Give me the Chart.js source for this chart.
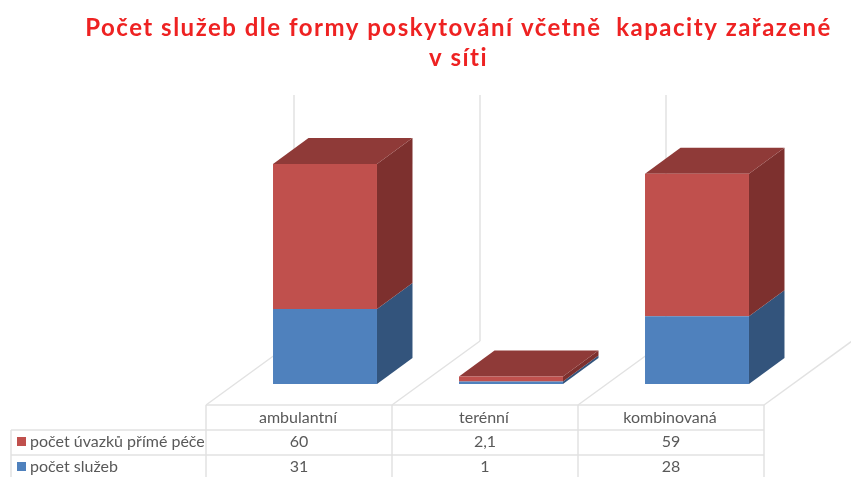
<!DOCTYPE html>
<html lang="cs">
<head>
<meta charset="utf-8">
<title>Počet služeb</title>
<script src="https://cdn.jsdelivr.net/npm/chart.js@4/dist/chart.umd.min.js"></script>
<style>
  html, body { margin: 0; padding: 0; background: #fff; }
  canvas { display: block; }
</style>
</head>
<body>
<canvas id="chart" width="851" height="477"></canvas>
<script>
const titleLines = ['Počet služeb dle formy poskytování včetně  kapacity zařazené', 'v síti'];
const categories = ['ambulantní', 'terénní', 'kombinovaná'];
const sluzbyLabel = 'počet služeb';
const uvazkyLabel = 'počet úvazků přímé péče';
const sluzby = [31, 1, 28];
const uvazky = [60, 2.1, 59];

const BLUE = { front: '#4F81BD', side: '#33547C', top: '#3F6797' };
const RED = { front: '#C0504D', side: '#7D302E', top: '#8F3A38' };
const GRID = '#E2E2E2';
const TEXT = '#595959';
const FONT = '16px Lato, sans-serif';

// bar depth, and the longer depth of the floor and walls behind
const BAR_DX = 35.5, BAR_DY = 26;
const WALL_DX = 88, WALL_DY = 64;
const TABLE_SHIFT = 26;

const poly = (ctx, pts, color) => {
    ctx.fillStyle = color;
    ctx.beginPath();
    pts.forEach(([x, y], i) => (i ? ctx.lineTo(x, y) : ctx.moveTo(x, y)));
    ctx.closePath();
    ctx.fill();
};

const line = (ctx, x1, y1, x2, y2) => {
    ctx.beginPath();
    ctx.moveTo(x1, y1);
    ctx.lineTo(x2, y2);
    ctx.stroke();
};

const fmt = (v) => String(v).replace('.', ',');

const cube3d = {
    id: 'cube3d',
    afterLayout(chart) {
        // the title sits left of the plot's own centre
        chart.titleBlock.left = 85;
        chart.titleBlock.right = 832;
    },
    beforeDraw(chart) {
        chart.ctx.letterSpacing = '1.5px';
    },
    beforeDatasetsDraw(chart) {
        const { ctx, scales: { x }, chartArea } = chart;
        ctx.letterSpacing = '0px';
        const cell = x.getPixelForValue(1) - x.getPixelForValue(0);
        const left = x.getPixelForValue(0) - cell / 2 - TABLE_SHIFT;
        const floorY = chartArea.bottom + 21;

        ctx.save();
        ctx.strokeStyle = GRID;
        ctx.lineWidth = 1.5;
        for (let i = 0; i <= categories.length; i++) {
            const px = left + i * cell;
            line(ctx, px, floorY, px + WALL_DX, floorY - WALL_DY);
            line(ctx, px + WALL_DX, floorY - WALL_DY, px + WALL_DX, chartArea.top + 1);
        }
        ctx.restore();

        const colors = [BLUE, RED];
        chart.data.datasets.forEach((ds, d) => {
            chart.getDatasetMeta(d).data.forEach((bar) => {
                const r = bar.x + bar.width / 2;
                const l = bar.x - bar.width / 2;
                poly(ctx, [[r, bar.base], [r + BAR_DX, bar.base - BAR_DY], [r + BAR_DX, bar.y - BAR_DY], [r, bar.y]], colors[d].side);
                if (d === chart.data.datasets.length - 1) {
                    poly(ctx, [[l, bar.y], [l + BAR_DX, bar.y - BAR_DY], [r + BAR_DX, bar.y - BAR_DY], [r, bar.y]], colors[d].top);
                }
            });
        });
    },
    afterDatasetsDraw(chart) {
        const { ctx, scales: { x }, chartArea } = chart;
        const cell = x.getPixelForValue(1) - x.getPixelForValue(0);
        const left = x.getPixelForValue(0) - cell / 2 - TABLE_SHIFT;
        const right = left + categories.length * cell;
        const top = chartArea.bottom + 21;
        const rowH = 25;
        const legendLeft = 11;
        const rows = [
            { label: uvazkyLabel, values: uvazky, color: RED.front },
            { label: sluzbyLabel, values: sluzby, color: BLUE.front },
        ];

        ctx.save();
        ctx.strokeStyle = GRID;
        ctx.lineWidth = 1.5;
        line(ctx, left, top, right, top);
        line(ctx, legendLeft, top + rowH, right, top + rowH);
        line(ctx, legendLeft, top + 2 * rowH, right, top + 2 * rowH);
        line(ctx, legendLeft, top + rowH, legendLeft, 477);
        for (let i = 0; i <= categories.length; i++) {
            line(ctx, left + i * cell, top, left + i * cell, 477);
        }

        ctx.font = FONT;
        ctx.fillStyle = TEXT;
        ctx.textBaseline = 'middle';
        ctx.textAlign = 'center';
        categories.forEach((c, i) => ctx.fillText(c, left + (i + 0.5) * cell - 1, top + rowH / 2));
        rows.forEach((row, r) => {
            const cy = top + rowH * (r + 1.5) - 1;
            ctx.textAlign = 'center';
            ctx.fillStyle = TEXT;
            row.values.forEach((v, i) => ctx.fillText(fmt(v), left + (i + 0.5) * cell, cy));
            ctx.fillStyle = row.color;
            ctx.fillRect(17, cy - 4.5, 9, 9);
            ctx.fillStyle = TEXT;
            ctx.textAlign = 'left';
            ctx.fillText(row.label, 30, cy);
        });
        ctx.restore();
    },
};

new Chart(document.getElementById('chart'), {
    type: 'bar',
    plugins: [cube3d],
    data: {
        labels: categories,
        datasets: [
            { label: sluzbyLabel, data: sluzby, backgroundColor: BLUE.front },
            { label: uvazkyLabel, data: uvazky, backgroundColor: RED.front },
        ],
    },
    options: {
        responsive: false,
        animation: false,
        layout: { padding: { left: 232, right: 61, top: 23, bottom: 93 } },
        datasets: { bar: { barPercentage: 1, categoryPercentage: 0.559 } },
        plugins: {
            legend: { display: false },
            tooltip: { enabled: false },
            title: {
                display: true,
                text: titleLines,
                color: '#EE2222',
                font: { family: 'Lato, sans-serif', size: 24, weight: 'bold', lineHeight: 30 / 24 },
                padding: { top: -10, bottom: 21 },
            },
        },
        scales: {
            x: { stacked: true, display: false },
            y: { stacked: true, display: false, min: 0, max: 120 },
        },
    },
});
</script>
</body>
</html>
